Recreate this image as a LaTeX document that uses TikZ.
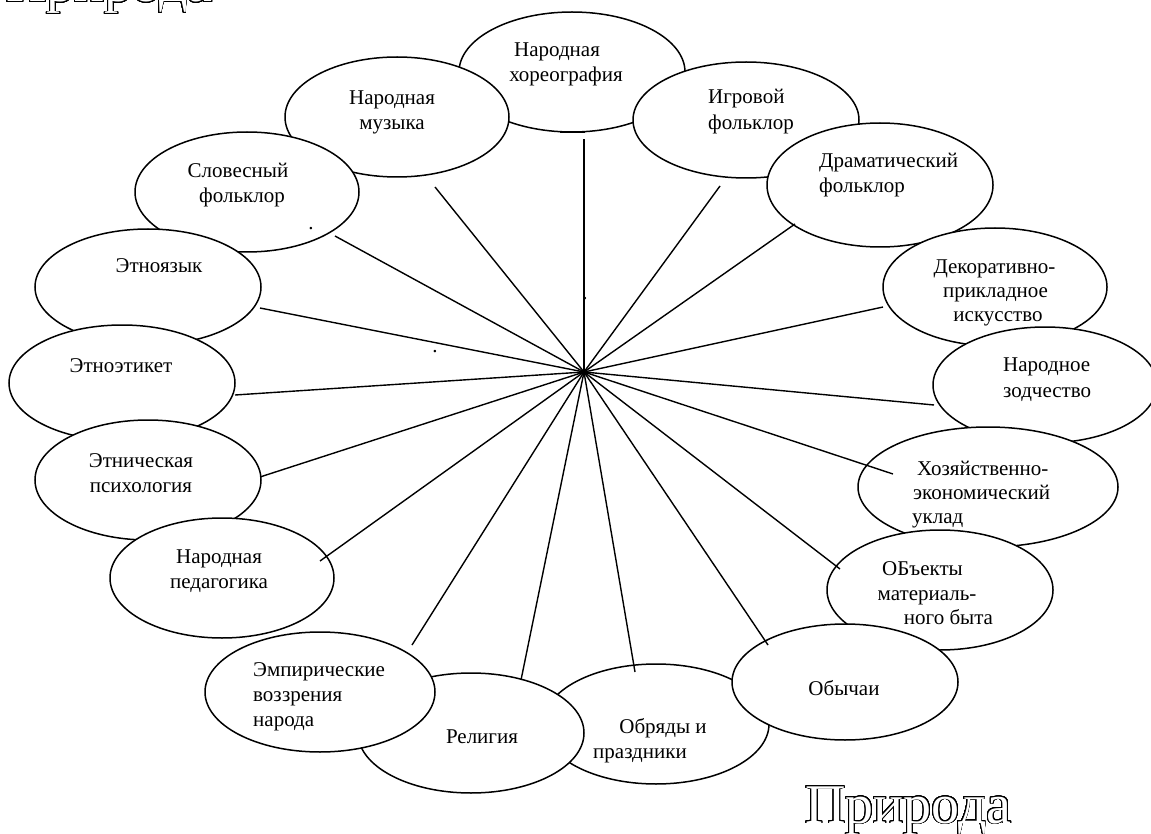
\documentclass[tikz,border=0pt]{standalone}
\usepackage{fontspec}
\setmainfont{Liberation Serif}
\usepackage{contour}
\usetikzlibrary{shapes.geometric}
\contourlength{0.9pt}
\contournumber{32}
\begin{document}
\begin{tikzpicture}[x=1pt,y=-1pt,
  ell/.style={ellipse,draw,fill=white,line width=1.5pt,inner sep=0pt},
  lbl/.style={inner sep=0pt,font=\fontsize{21}{25}\selectfont,anchor=base},
  lbll/.style={lbl,anchor=base west},
  conn/.style={line width=1.4pt},
  nat/.style={inner sep=0pt,anchor=base west,font=\fontsize{56}{60}\selectfont}
]
\useasboundingbox (0,0) rectangle (1151,834);
\clip (0,0) rectangle (1151,834);

% ellipses with their texts, in stacking order
\node[ell,minimum width=226pt,minimum height=120pt] (hor) at (572,72) {};
\node[lbl] (hor1) at (557,57) {Народная};
\node[lbl] (hor2) at (566,82) {хореография};

\node[ell,minimum width=226pt,minimum height=116pt] (igr) at (746,120) {};
\node[lbll] (igr1) at (708,104) {Игровой};
\node[lbll] (igr2) at (708,130) {фольклор};

\node[ell,minimum width=224pt,minimum height=120pt] (muz) at (397,117) {};
\node[lbl] (muz1) at (392,105) {Народная};
\node[lbl] (muz2) at (392,130) {музыка};

\node[ell,minimum width=226pt,minimum height=124pt] (dra) at (880,185) {};
\node[lbll] (dra1) at (819,168) {Драматический};
\node[lbll] (dra2) at (819,193) {фольклор};

\node[ell,minimum width=224pt,minimum height=120pt] (slo) at (247,192) {};
\node[lbl] (slo1) at (238,178) {Словесный};
\node[lbl] (slo2) at (242,203) {фольклор};

\node[ell,minimum width=224pt,minimum height=118pt] (dek) at (995,287) {};
\node[lbl] (dek1) at (994.5,274) {Декоративно-};
\node[lbl] (dek2) at (995.5,298) {прикладное};
\node[lbl] (dek3) at (998,321) {искусство};

\node[ell,minimum width=226pt,minimum height=116pt] (yaz) at (148,287) {};
\node[lbl] (yaz1) at (159,273) {Этноязык};

\node[ell,minimum width=224pt,minimum height=116pt] (zod) at (1045,385) {};
\node[lbll] (zod1) at (1003,371) {Народное};
\node[lbll] (zod2) at (1003,397) {зодчество};

\node[ell,minimum width=226pt,minimum height=116pt] (eti) at (122,383) {};
\node[lbl] (eti1) at (121,372) {Этноэтикет};

\node[ell,minimum width=260pt,minimum height=120pt] (hoz) at (988,487) {};
\node[lbll] (hoz1) at (917,475) {Хозяйственно-};
\node[lbll] (hoz2) at (913,499) {экономический};
\node[lbll] (hoz3) at (912,523) {уклад};

\node[ell,minimum width=226pt,minimum height=120pt] (psi) at (148,480) {};
\node[lbl] (psi1) at (141,467) {Этническая};
\node[lbl] (psi2) at (141,492) {психология};

\node[ell,minimum width=226pt,minimum height=120pt] (obj) at (940,590) {};
\node[lbl] (obj1) at (922.5,575) {ОБъекты};
\node[lbl] (obj2) at (927,600) {материаль-};
\node[lbl] (obj3) at (948.5,624) {ного быта};

\node[ell,minimum width=224pt,minimum height=120pt] (ped) at (222,578) {};
\node[lbl] (ped1) at (219,563) {Народная};
\node[lbl] (ped2) at (219,588) {педагогика};

\node[ell,minimum width=226pt,minimum height=120pt] (obr) at (656,724) {};
\node[lbl] (obr1) at (663,733) {Обряды и};
\node[lbl] (obr2) at (640,758) {праздники};

\node[ell,minimum width=226pt,minimum height=116pt] (oby) at (845,682) {};
\node[lbl] (oby1) at (844,695) {Обычаи};

\node[ell,minimum width=226pt,minimum height=120pt] (rel) at (471,733) {};
\node[lbl] (rel1) at (482,743) {Религия};

\node[ell,minimum width=230pt,minimum height=120pt] (emp) at (320,692) {};
\node[lbll] (emp1) at (253,676) {Эмпирические};
\node[lbll] (emp2) at (253,701) {воззрения};
\node[lbll] (emp3) at (253,726) {народа};

% hub and connector ends
\coordinate (hub) at (584,372);
\coordinate (chor) at (584,139);
\coordinate (cigr) at (720,186);
\coordinate (cdra) at (795,224);
\coordinate (cdek) at (883,307);
\coordinate (czod) at (934,405);
\coordinate (choz) at (893,474);
\coordinate (cobj) at (840,569);
\coordinate (coby) at (768,645);
\coordinate (cobr) at (635,672);
\coordinate (crel) at (521,680);
\coordinate (cemp) at (412,645);
\coordinate (cped) at (320,561);
\coordinate (cpsi) at (260,477);
\coordinate (ceti) at (235,395);
\coordinate (cyaz) at (260,308);
\coordinate (cslo) at (335,236);
\coordinate (cmuz) at (435,187);

\foreach \e in {chor,cigr,cdra,cdek,czod,choz,cobj,coby,cobr,crel,cemp,cped,cpsi,ceti,cyaz,cslo,cmuz}
  \draw[conn] (hub) -- (\e);

% short thick mark under the top ellipse
\coordinate (ua) at (560,132);
\coordinate (ub) at (585,132);
\draw[line width=2.4pt] (ua) -- (ub);

% stray dots
\node[lbl] (d1) at (311,230) {.};
\node[lbl] (d2) at (585,300) {.};
\node[lbl] (d3) at (435,352) {.};

% Природа (outlined)
\node[nat] (nat1) at (6,2) {\contour{black}{\textcolor{white}{Природа}}};
\node[nat] (nat2) at (805,823) {\contour{black}{\textcolor{white}{Природа}}};
\end{tikzpicture}
\end{document}
